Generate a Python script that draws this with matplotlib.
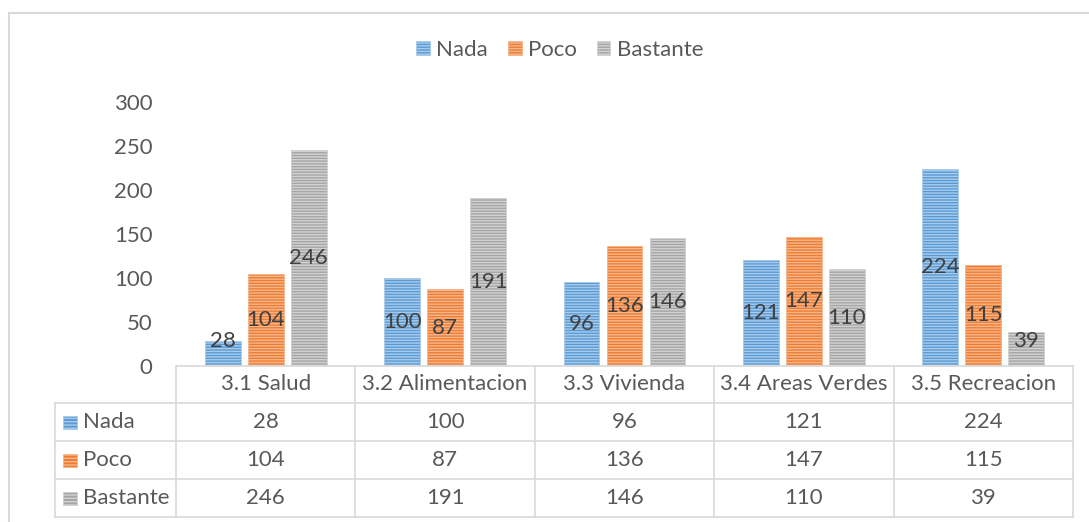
import matplotlib.pyplot as plt
import matplotlib.transforms as mtransforms
from matplotlib.patches import Rectangle
from matplotlib.lines import Line2D
import numpy as np

plt.rcParams['font.family'] = ['Lato', 'DejaVu Sans']
plt.rcParams['hatch.linewidth'] = 1.0

# data
categories = ['3.1 Salud', '3.2 Alimentacion', '3.3 Vivienda', '3.4 Areas Verdes', '3.5 Recreacion']
series_names = ['Nada', 'Poco', 'Bastante']
nada = [28, 100, 96, 121, 224]
poco = [104, 87, 136, 147, 115]
bastante = [246, 191, 146, 110, 39]
y_ticks = [0, 50, 100, 150, 200, 250, 300]

series = [nada, poco, bastante]
colors = ['#5B9BD5', '#ED7D31', '#A5A5A5']
stripes = ['#A9CBEB', '#F6B68E', '#D2D2D2']
text_col = '#595959'
line_col = '#D9D9D9'
fs = 16

W, H = 1089, 522
fig = plt.figure(figsize=(W / 100, H / 100), dpi=100)

def fx(px):
    return px / W

def fy(py):
    return 1 - py / H

ax = fig.add_axes([fx(176), fy(366), fx(1073) - fx(176), fy(102) - fy(366)])

x = np.arange(len(categories))
offsets = [-0.24, 0, 0.24]
bw = 0.2
for vals, off, c, s in zip(series, offsets, colors, stripes):
    ax.bar(x + off, vals, bw, color=c, edgecolor=s, hatch='------', linewidth=0.6)
    for xi, v in zip(x, vals):
        ax.text(xi + off, max(v / 2, 28), str(v), ha='center', va='center',
                fontsize=fs, color='#404040')

ax.set_xlim(-0.5, len(categories) - 0.5)
ax.set_ylim(0, 300)
ax.set_yticks(y_ticks)
ax.set_xticks([])
ax.tick_params(axis='y', length=0, pad=17, labelsize=fs, labelcolor=text_col)
for sp in ax.spines.values():
    sp.set_visible(False)

# legend on top
handles = [Rectangle((0, 0), 1, 1, facecolor=c, edgecolor=s, hatch='------', linewidth=0.6)
           for c, s in zip(colors, stripes)]
fig.legend(handles, series_names, loc='center', bbox_to_anchor=(fx(560), fy(50)),
           ncol=3, frameon=False, fontsize=fs, labelcolor=text_col,
           handlelength=0.6, handleheight=0.6, handletextpad=0.3, columnspacing=0.9)

# data table below the plot
tr = mtransforms.blended_transform_factory(ax.transData, fig.transFigure)
row_tops = [366, 403, 441, 479, 517]
x0, x1 = -0.5, len(categories) - 0.5

fig.add_artist(Line2D([x0, x1], [fy(366)] * 2, transform=tr, color=line_col, lw=1.2))
for r in row_tops[1:]:
    fig.add_artist(Line2D([fx(55), fx(176)], [fy(r)] * 2, transform=fig.transFigure,
                          color=line_col, lw=1.2))
    fig.add_artist(Line2D([x0, x1], [fy(r)] * 2, transform=tr, color=line_col, lw=1.2))
fig.add_artist(Line2D([fx(55)] * 2, [fy(403), fy(517)], transform=fig.transFigure,
                      color=line_col, lw=1.2))
for b in np.arange(len(categories) + 1) - 0.5:
    fig.add_artist(Line2D([b, b], [fy(366), fy(517)], transform=tr, color=line_col, lw=1.2))

for xi, cat in zip(x, categories):
    fig.text(xi, fy((366 + 403) / 2), cat, transform=tr, ha='center', va='center',
             fontsize=fs, color=text_col)

for i, (name, vals, c, s) in enumerate(zip(series_names, series, colors, stripes)):
    yc = fy((row_tops[i + 1] + row_tops[i + 2]) / 2)
    fig.add_artist(Rectangle((fx(63), yc - 6.5 / H), 14 / W, 13 / H, transform=fig.transFigure,
                             facecolor=c, edgecolor=s, hatch='-----', linewidth=0.5))
    fig.text(fx(83), yc, name, ha='left', va='center', fontsize=fs, color=text_col)
    for xi, v in zip(x, vals):
        fig.text(xi, yc, str(v), transform=tr, ha='center', va='center',
                 fontsize=fs, color=text_col)

# outer chart border (runs off the right and bottom edge)
fig.add_artist(Rectangle((fx(9), -0.5), 1.5, fy(13) + 0.5, transform=fig.transFigure,
                         fill=False, edgecolor=line_col, linewidth=1.5))

fig.savefig('out.png', dpi=100)
